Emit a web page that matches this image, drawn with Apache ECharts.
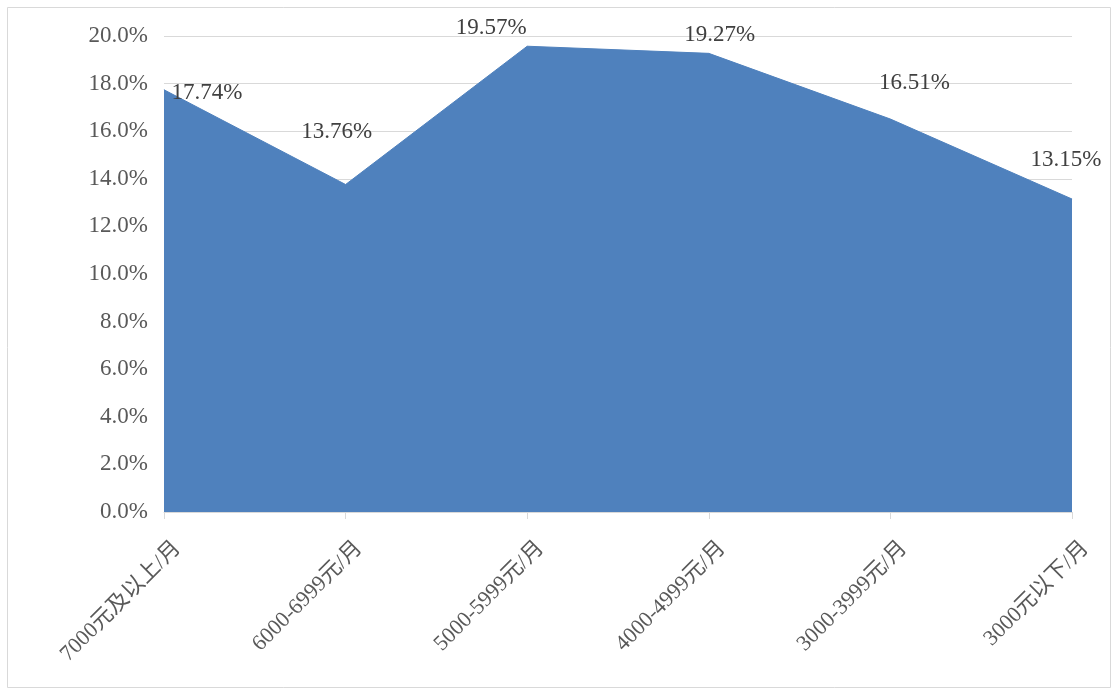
<!DOCTYPE html>
<html><head><meta charset="utf-8">
<script src="https://cdn.jsdelivr.net/npm/echarts@6/dist/echarts.min.js"></script>
<style>html,body{margin:0;padding:0;background:#fff}#c{width:1113px;height:690px}</style>
</head><body><div id="c"></div>
<script>
const categories = ['7000元及以上/月','6000-6999元/月','5000-5999元/月','4000-4999元/月','3000-3999元/月','3000元以下/月'];
const shares = [17.74, 13.76, 19.57, 19.27, 16.51, 13.15];
const yTicks = [0, 2, 4, 6, 8, 10, 12, 14, 16, 18, 20];

const labelOffsets = [[43,3],[-9,-53],[-36,-18],[11,-18],[24,-36],[-6,-39]];
const FONT = '"Liberation Serif", "Times New Roman", "Noto Sans CJK SC", serif';
const chart = echarts.init(document.getElementById('c'), null, {renderer:'canvas'});
chart.setOption({
  animation:false,
  backgroundColor:'#fff',
  graphic:[{type:'rect',shape:{x:7.5,y:7.5,width:1103,height:680},style:{fill:'none',stroke:'#d9d9d9',lineWidth:1},z:-1}],
  grid:{left:164,right:41,top:36,bottom:178,containLabel:false},
  xAxis:{type:'category',data:categories,boundaryGap:false,
    axisLine:{lineStyle:{color:'#d9d9d9',width:1}},
    axisTick:{show:true,length:7,lineStyle:{color:'#d9d9d9'}},
    axisLabel:{rotate:45,margin:8,padding:[0,8,0,0],lineHeight:54,formatter:v=>'\n'+v,
      color:'#595959',fontSize:22,fontFamily:FONT}},
  yAxis:{type:'value',min:yTicks[0],max:yTicks[yTicks.length-1],interval:yTicks[1]-yTicks[0],
    axisLine:{show:false},axisTick:{show:false},
    splitLine:{lineStyle:{color:'#d9d9d9',width:1}},
    axisLabel:{margin:16,color:'#595959',fontSize:23,fontFamily:FONT,formatter:v=>v.toFixed(1)+'%'}},
  series:[{type:'line',data:shares.map((v,i)=>({value:v,label:{offset:labelOffsets[i]}})),
    symbol:'circle',symbolSize:0.5,itemStyle:{color:'#4f81bd'},
    lineStyle:{color:'#4f81bd',width:1},
    areaStyle:{color:'#4f81bd',opacity:1},
    label:{show:true,position:'inside',color:'#404040',fontSize:23,fontFamily:FONT,
      formatter:p=>p.value.toFixed(2)+'%'}}]
});
</script></body></html>
